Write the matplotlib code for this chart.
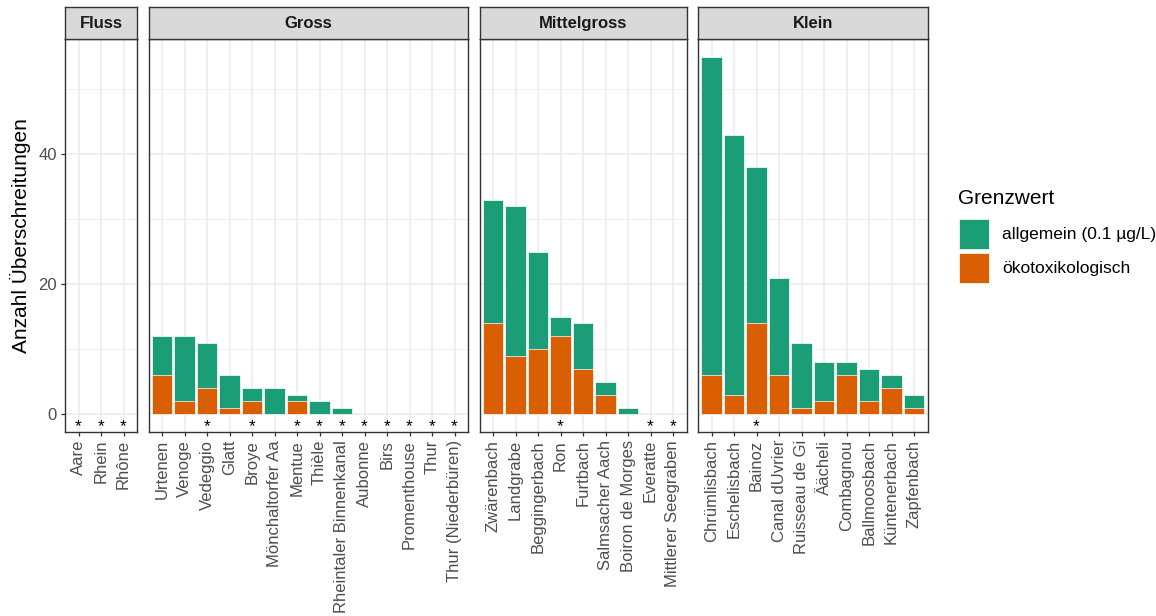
import matplotlib
matplotlib.use("Agg")
import numpy as np
import matplotlib.pyplot as plt
from matplotlib.patches import Rectangle

plt.rcParams['font.family'] = ['Liberation Sans', 'DejaVu Sans']

# ---- data -------------------------------------------------------------
facets = ["Fluss", "Gross", "Mittelgross", "Klein"]

fluss_names = ["Aare", "Rhein", "Rhône"]
fluss_allgemein = [0, 0, 0]
fluss_oeko = [0, 0, 0]
fluss_star = [True, True, True]

gross_names = ["Urtenen", "Venoge", "Vedeggio", "Glatt", "Broye",
               "Mönchaltorfer Aa", "Mentue", "Thièle", "Rheintaler Binnenkanal",
               "Aubonne", "Birs", "Promenthouse", "Thur", "Thur (Niederbüren)"]
gross_allgemein = [12, 12, 11, 6, 4, 4, 3, 2, 1, 0, 0, 0, 0, 0]
gross_oeko = [6, 2, 4, 1, 2, 0, 2, 0, 0, 0, 0, 0, 0, 0]
gross_star = [False, False, True, False, True, False, True, True, True,
              True, True, True, True, True]

mittel_names = ["Zwärenbach", "Landgrabe", "Beggingerbach", "Ron", "Furtbach",
                "Salmsacher Aach", "Boiron de Morges", "Everatte",
                "Mittlerer Seegraben"]
mittel_allgemein = [33, 32, 25, 15, 14, 5, 1, 0, 0]
mittel_oeko = [14, 9, 10, 12, 7, 3, 0, 0, 0]
mittel_star = [False, False, False, True, False, False, False, True, True]

klein_names = ["Chrümlisbach", "Eschelisbach", "Bainoz", "Canal dUvrier",
               "Ruisseau de Gi", "Äächeli", "Combagnou", "Ballmoosbach",
               "Küntenerbach", "Zapfenbach"]
klein_allgemein = [55, 43, 38, 21, 11, 8, 8, 7, 6, 3]
klein_oeko = [6, 3, 14, 6, 1, 2, 6, 2, 4, 1]
klein_star = [False, False, True, False, False, False, False, False, False, False]

legend_title = "Grenzwert"
legend_labels = ["allgemein (0.1 µg/L)", "ökotoxikologisch"]
y_label = "Anzahl Überschreitungen"
y_ticks = [0, 20, 40]

panels = [
    (facets[0], fluss_names, fluss_allgemein, fluss_oeko, fluss_star),
    (facets[1], gross_names, gross_allgemein, gross_oeko, gross_star),
    (facets[2], mittel_names, mittel_allgemein, mittel_oeko, mittel_star),
    (facets[3], klein_names, klein_allgemein, klein_oeko, klein_star),
]

# ---- style ------------------------------------------------------------
GREEN = "#1B9E77"
ORANGE = "#D95F02"
BORDER = "#333333"
GRID = "#EBEBEB"
TICKTXT = "#4D4D4D"
STRIP = "#D9D9D9"

W, H = 1156, 616
fig = plt.figure(figsize=(W / 100, H / 100), dpi=100)


def fx(px):
    return px / W


def fy(py):
    return 1 - py / H


unit = 22.5          # pixels per category
gap = 11.5           # pixels between panels
left = 65.0
strip_top, panel_top, panel_bot = 7.0, 39.0, 432.0
ymin, ymax = -2.75, 57.75

for idx, (title, names, allg, oeko, star) in enumerate(panels):
    n = len(names)
    width = (n - 1 + 1.2) * unit
    ax = fig.add_axes([fx(left), fy(panel_bot), width / W,
                       (panel_bot - panel_top) / H])
    sax = fig.add_axes([fx(left), fy(panel_top), width / W,
                        (panel_top - strip_top) / H])

    x = np.arange(n)
    allg = np.asarray(allg, dtype=float)
    oeko = np.asarray(oeko, dtype=float)

    ax.set_xlim(-0.6, n - 0.4)
    ax.set_ylim(ymin, ymax)
    ax.set_axisbelow(True)

    # grid
    for v in [10, 30, 50]:
        ax.axhline(v, color=GRID, lw=0.6, zorder=0)
    for v in y_ticks:
        ax.axhline(v, color=GRID, lw=1.1, zorder=0)
    for xi in x:
        ax.axvline(xi, color=GRID, lw=1.1, zorder=0)

    m = allg > 0
    ax.bar(x[m], allg[m], width=0.9, color=GREEN, edgecolor="white",
           linewidth=0.5, zorder=2)
    m = oeko > 0
    ax.bar(x[m], oeko[m], width=0.9, color=ORANGE, edgecolor="white",
           linewidth=0.5, zorder=3)

    for xi, s in zip(x, star):
        if s:
            ax.text(xi, -1.9, "*", ha="center", va="center", fontsize=12.5,
                    color="black", zorder=4)

    ax.set_xticks(x)
    ax.set_xticklabels(names, rotation=90, ha="center", va="top",
                       fontsize=12, color=TICKTXT)
    ax.tick_params(axis="x", length=3.2, width=0.9, color=BORDER, pad=2.5)
    if idx == 0:
        ax.set_yticks(y_ticks)
        ax.set_yticklabels([str(v) for v in y_ticks], fontsize=12,
                           color=TICKTXT)
        ax.tick_params(axis="y", length=3.2, width=0.9, color=BORDER, pad=2.5)
    else:
        ax.set_yticks([])
    for sp in ax.spines.values():
        sp.set_color(BORDER)
        sp.set_linewidth(1.0)

    # strip
    sax.set_facecolor(STRIP)
    sax.set_xticks([])
    sax.set_yticks([])
    for sp in sax.spines.values():
        sp.set_color(BORDER)
        sp.set_linewidth(1.0)
    sax.text(0.5, 0.47, title, ha="center", va="center", fontsize=12,
             fontweight="bold", color="#1A1A1A", transform=sax.transAxes)

    left += width + gap

# y-axis title
fig.text(fx(20), fy((panel_top + panel_bot) / 2), y_label, rotation=90,
         ha="center", va="center", fontsize=15, color="black")

# legend
fig.text(fx(958), fy(199), legend_title, ha="left", va="center",
         fontsize=15, color="black")
for i, (lab, col) in enumerate(zip(legend_labels, [GREEN, ORANGE])):
    top = 219 + i * 34
    fig.patches.append(Rectangle((fx(959), fy(top + 30)), 30 / W, 30 / H,
                                 transform=fig.transFigure, facecolor=col,
                                 edgecolor="white", linewidth=0.5))
    fig.text(fx(1002), fy(top + 15), lab, ha="left", va="center",
             fontsize=12.5, color="black")

fig.savefig("out.png", dpi=100, facecolor="white")
